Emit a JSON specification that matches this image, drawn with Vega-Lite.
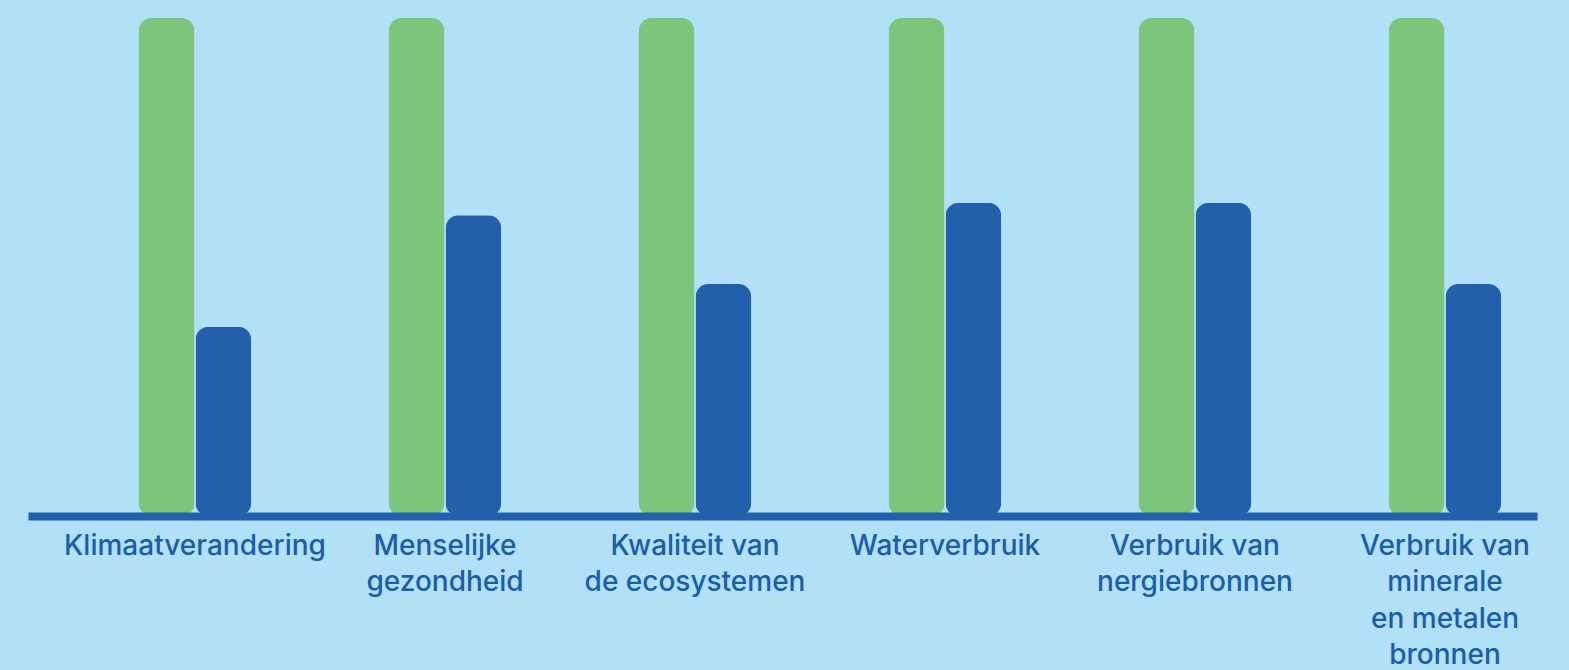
{
  "$schema": "https://vega.github.io/schema/vega-lite/v6.json",
  "width": 1509,
  "height": 498,
  "autosize": {"type": "none"},
  "padding": {"left": 28, "top": 18, "right": 32, "bottom": 154},
  "background": "#b1e0f7",
  "config": {"view": {"stroke": null}},
  "data": {
    "values": [
      {"categorie": "Klimaatverandering", "reeks": "Groen", "waarde": 100},
      {"categorie": "Klimaatverandering", "reeks": "Blauw", "waarde": 38},
      {"categorie": "Menselijke|gezondheid", "reeks": "Groen", "waarde": 100},
      {"categorie": "Menselijke|gezondheid", "reeks": "Blauw", "waarde": 60.4},
      {"categorie": "Kwaliteit van|de ecosystemen", "reeks": "Groen", "waarde": 100},
      {"categorie": "Kwaliteit van|de ecosystemen", "reeks": "Blauw", "waarde": 46.6},
      {"categorie": "Waterverbruik", "reeks": "Groen", "waarde": 100},
      {"categorie": "Waterverbruik", "reeks": "Blauw", "waarde": 62.9},
      {"categorie": "Verbruik van|nergiebronnen", "reeks": "Groen", "waarde": 100},
      {"categorie": "Verbruik van|nergiebronnen", "reeks": "Blauw", "waarde": 62.9},
      {"categorie": "Verbruik van|minerale|en metalen|bronnen", "reeks": "Groen", "waarde": 100},
      {"categorie": "Verbruik van|minerale|en metalen|bronnen", "reeks": "Blauw", "waarde": 46.6}
    ]
  },
  "mark": {"type": "bar", "cornerRadius": 13},
  "encoding": {
    "x": {
      "field": "categorie",
      "type": "nominal",
      "sort": null,
      "scale": {"paddingInner": 0.55, "paddingOuter": 0.293, "align": 0.756},
      "axis": {
        "title": null,
        "labelAngle": 0,
        "ticks": false,
        "zindex": 1,
        "domainColor": "#2360ab",
        "domainWidth": 8,
        "labelColor": "#1a5ea8",
        "labelFont": "Inter",
        "labelFontSize": 28,
        "labelFontWeight": 500,
        "labelLimit": 0,
        "labelOverlap": false,
        "labelExpr": "split(datum.label, '|')",
        "labelLineHeight": 36.5,
        "labelPadding": 16,
        "labelBaseline": "top"
      }
    },
    "xOffset": {"field": "reeks", "type": "nominal", "sort": ["Groen", "Blauw"], "scale": {"paddingInner": 0.02}},
    "y": {"field": "waarde", "type": "quantitative", "scale": {"domain": [0, 100]}, "axis": null},
    "color": {
      "field": "reeks",
      "type": "nominal",
      "scale": {"domain": ["Groen", "Blauw"], "range": ["#7cc57a", "#2360ab"]},
      "legend": null
    }
  }
}
